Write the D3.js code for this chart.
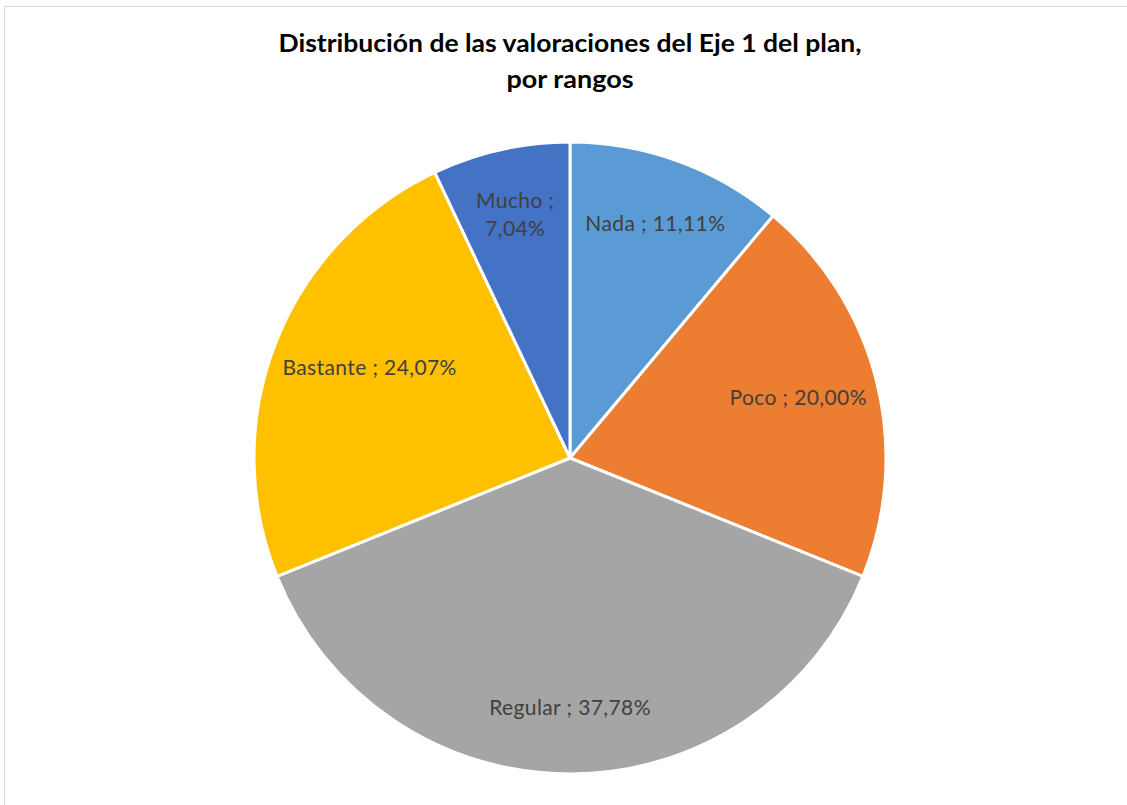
<!DOCTYPE html>
<html>
<head>
<meta charset="utf-8">
<script src="https://cdn.jsdelivr.net/npm/d3@7"></script>
<style>
  body { margin: 0; background: #fff; }
  svg { display: block; }
</style>
</head>
<body>
<div id="container"></div>
<script>
const categories = ['Nada', 'Poco', 'Regular', 'Bastante', 'Mucho'];
const values = [11.11, 20.0, 37.78, 24.07, 7.04];
const colors = ['#5B9BD5', '#ED7D31', '#A5A5A5', '#FFC000', '#4472C4'];
const titleLines = ['Distribución de las valoraciones del Eje 1 del plan,', 'por rangos'];

const w = 1127;
const h = 805;
const cx = 570;
const cy = 458;
const r = 316;

const data = categories.map((c, i) => ({ name: c, value: values[i] }));
const fmt = v => v.toFixed(2).replace('.', ',') + '%';

const svg = d3
  .select('#container')
  .append('svg')
  .attr('width', w)
  .attr('height', h);

svg
  .append('rect')
  .attr('x', 4.5)
  .attr('y', 6.5)
  .attr('width', w + 10)
  .attr('height', h + 10)
  .attr('fill', '#fff')
  .attr('stroke', '#d9d9d9')
  .attr('stroke-width', 1);

svg
  .append('text')
  .attr('x', cx)
  .attr('y', 52)
  .attr('text-anchor', 'middle')
  .style('font-family', 'Lato, "Open Sans", sans-serif')
  .style('font-weight', 'bold')
  .style('font-size', '24px')
  .attr('fill', '#000')
  .selectAll('tspan')
  .data(titleLines)
  .enter()
  .append('tspan')
  .attr('x', cx)
  .attr('dy', (d, i) => (i === 0 ? 0 : 36))
  .attr('textLength', (d, i) => (i === 0 ? 583 : 127))
  .attr('lengthAdjust', 'spacingAndGlyphs')
  .text(d => d);

const color = d3.scaleOrdinal().domain(categories).range(colors);

const pie = d3.pie().sort(null).value(d => d.value);
const arcs = pie(data);

const arc = d3.arc().innerRadius(0).outerRadius(r);
const labelArc = d3.arc().innerRadius(r * 0.79).outerRadius(r * 0.79);

const g = svg.append('g').attr('transform', `translate(${cx},${cy})`);

g.selectAll('path')
  .data(arcs)
  .enter()
  .append('path')
  .attr('d', arc)
  .attr('fill', d => color(d.data.name))
  .attr('stroke', '#fff')
  .attr('stroke-width', 3)
  .attr('stroke-linejoin', 'round');

const labels = g
  .selectAll('text.lbl')
  .data(arcs)
  .enter()
  .append('text')
  .attr('class', 'lbl')
  .attr('text-anchor', 'middle')
  .style('font-family', 'Lato, "Open Sans", sans-serif')
  .style('font-size', '21px')
  .style('letter-spacing', '0.4px')
  .attr('fill', '#404040');

labels.each(function(d) {
  const t = d3.select(this);
  const lines =
    d.data.name === 'Mucho'
      ? [d.data.name + ' ;', fmt(d.data.value)]
      : [d.data.name + ' ; ' + fmt(d.data.value)];
  t.selectAll('tspan')
    .data(lines)
    .enter()
    .append('tspan')
    .attr('x', 0)
    .attr('dy', (l, i) => (i === 0 ? (lines.length === 1 ? '0.35em' : '-0.3em') : '1.35em'))
    .text(l => l);

  // keep the label box inside the pie by pulling it toward the centre
  let [x, y] = labelArc.centroid(d);
  const bb = this.getBBox();
  const lim = r - 10;
  const ys = [y + bb.y, y + bb.y + bb.height];
  const maxHalf = d3.min(ys, yy => Math.sqrt(Math.max(0, lim * lim - yy * yy)));
  if (x + bb.width / 2 > maxHalf) x = maxHalf - bb.width / 2;
  if (x - bb.width / 2 < -maxHalf) x = -maxHalf + bb.width / 2;
  t.attr('transform', `translate(${x},${y})`);
});
</script>
</body>
</html>
